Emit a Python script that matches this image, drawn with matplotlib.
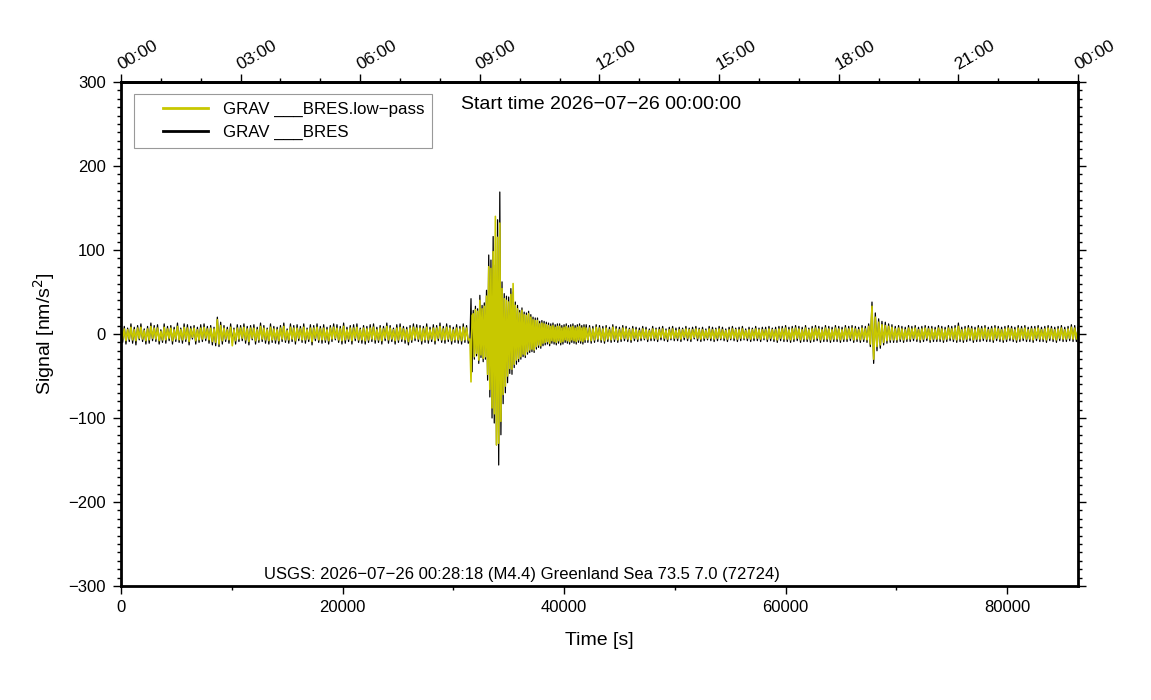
import numpy as np
import matplotlib
matplotlib.use("Agg")
import matplotlib.pyplot as plt
from matplotlib.ticker import MultipleLocator, FixedLocator
from matplotlib.legend_handler import HandlerLine2D

plt.rcParams['font.family'] = ['Liberation Sans', 'DejaVu Sans']

# sample times [s]: 150 s before/after the event, 100 s during it
t_a = np.arange(0, 31500, 150)
t_b = np.arange(31500, 42000, 100)
t_c = np.arange(42000, 86401, 150)

# raw gravimeter residual (nm/s^2), peaks
bres_a = [
    11, -10, 9, -12, 7, -9, 12, -11, 8, -13, 10, -7, 12, -9, 6, -12, 9, -11, 13, -8, 10, -9, 11, -12, 5, -10, 12, -11, 9, -8,
    10, -12, 8, -9, 13, -10, 7, -11, 12, -9, 11, -13, 9, -6, 10, -12, 8, -10, 11, -9, 12, -8, 9, -11, 10, -13, 8, -14, 20, -15,
    14, -12, 10, -9, 8, -11, 12, -10, 7, -12, 11, -9, 10, -8, 12, -11, 9, -13, 10, -7, 11, -12, 8, -10, 13, -9, 10, -11, 7, -12,
    12, -10, 9, -11, 8, -12, 10, -9, 13, -10, 6, -11, 12, -9, 10, -12, 11, -8, 9, -10, 12, -11, 7, -9, 11, -13, 10, -8, 12, -10,
    9, -11, 11, -10, 8, -12, 10, -9, 12, -7, 11, -10, 9, -12, 13, -11, 8, -9, 10, -12, 11, -8, 12, -10, 7, -11, 10, -12, 9, -10,
    11, -9, 12, -11, 8, -10, 10, -12, 9, -8, 13, -11, 10, -9, 7, -12, 11, -10, 12, -9, 9, -11, 8, -13, 10, -10, 12, -8, 11, -9,
    10, -12, 9, -10, 12, -11, 8, -9, 11, -12, 10, -8, 13, -10, 9, -11, 12, -9, 10, -12, 8, -10, 11, -11, 9, -12, 12, -10, 10, -11,
]
bres_b = [
    -9, 42, -45, 28, -30, 33, -26, 30, -35, 46, -28, 34, -33, 37, -30, 52, -55, 94, -75, 88,
    -100, 116, -106, 82, -132, 136, -156, 169, -120, 62, -83, 48, -70, 45, -58, 44, -47, 54, -48, 50,
    -40, 38, -36, 34, -33, 28, -30, 31, -27, 26, -28, 25, -24, 27, -22, 23, -21, 20, -22, 19,
    -18, 19, -16, 15, -17, 16, -14, 15, -13, 14, -12, 13, -14, 12, -11, 13, -12, 11, -13, 12,
    -11, 12, -13, 10, -12, 11, -10, 12, -11, 10, -12, 11, -10, 12, -11, 10, -12, 11, -10, 12,
    -11, 10, -12, 11, -10,
]
bres_c = [
    11, -10, 10, -11, 9, -10, 11, -9, 10, -10, 9, -11, 10, -9, 8, -10, 11, -9, 9, -10, 8, -9, 10, -8, 9, -9, 7, -10, 9, -8,
    8, -9, 7, -8, 9, -7, 8, -9, 6, -8, 9, -8, 7, -9, 8, -7, 9, -8, 6, -9, 8, -7, 9, -8, 7, -8, 8, -9, 7, -7,
    9, -8, 7, -9, 8, -6, 9, -8, 7, -9, 8, -8, 6, -7, 9, -8, 8, -9, 7, -8, 9, -7, 8, -8, 6, -9, 8, -7, 9, -8,
    7, -9, 8, -8, 9, -7, 6, -8, 8, -9, 7, -8, 9, -8, 7, -9, 8, -7, 8, -9, 9, -8, 7, -9, 8, -10, 9, -8, 9, -9,
    10, -9, 8, -10, 9, -9, 10, -8, 9, -10, 8, -9, 10, -9, 7, -10, 9, -9, 10, -8, 9, -10, 8, -9, 10, -9, 9, -10, 8, -9,
    10, -9, 9, -10, 8, -9, 10, -9, 9, -8, 10, -10, 9, -9, 8, -10, 10, -9, 9, -10, 12, -15, 38, -35, 25, -20, 18, -17, 15, -13,
    14, -11, 12, -10, 11, -10, 9, -10, 10, -9, 9, -10, 8, -9, 10, -9, 9, -8, 10, -9, 8, -10, 9, -9, 10, -8, 9, -10, 9, -9,
    8, -9, 10, -9, 9, -10, 8, -9, 10, -8, 9, -9, 10, -10, 13, -9, 8, -10, 9, -9, 10, -8, 9, -10, 8, -9, 10, -9, 9, -8,
    10, -9, 8, -9, 9, -10, 10, -8, 9, -9, 8, -10, 9, -9, 10, -8, 9, -9, 8, -10, 10, -9, 9, -8, 10, -9, 8, -9, 9, -10,
    9, -8, 10, -9, 8, -9, 9, -10, 10, -8, 9, -9, 8, -10, 9, -8, 10, -9, 8, -9, 9, -8, 11, -9, 10, -9, 8,
]

# low-pass filtered version
lowp_a = [
    7, -6, 6, -8, 5, -6, 8, -7, 5, -8, 7, -5, 8, -6, 4, -8, 6, -7, 9, -5, 7, -6, 7, -8, 3, -7, 8, -7, 6, -5,
    7, -8, 5, -6, 9, -7, 5, -7, 8, -6, 7, -9, 6, -4, 7, -8, 5, -7, 7, -6, 8, -5, 6, -7, 7, -9, 6, -10, 17, -12,
    10, -8, 7, -6, 5, -7, 8, -14, 5, -8, 7, -6, 7, -5, 8, -7, 6, -9, 7, -5, 7, -8, 5, -7, 9, -6, 7, -7, 5, -8,
    8, -7, 6, -7, 5, -8, 7, -6, 9, -7, 4, -7, 8, -6, 7, -8, 7, -5, 6, -7, 8, -7, 5, -6, 7, -9, 7, -5, 8, -7,
    6, -7, 7, -7, 5, -8, 7, -6, 8, -5, 7, -7, 6, -8, 9, -7, 5, -6, 7, -8, 7, -5, 8, -7, 5, -7, 7, -8, 6, -7,
    7, -6, 8, -7, 5, -7, 7, -8, 6, -5, 9, -7, 7, -6, 5, -8, 7, -7, 8, -6, 6, -7, 5, -9, 7, -7, 8, -5, 7, -6,
    7, -8, 6, -7, 8, -7, 5, -6, 7, -8, 7, -5, 9, -7, 6, -7, 8, -6, 7, -8, 5, -7, 7, -7, 6, -8, 8, -7, 7, -7,
]
lowp_b = [
    -6, -57, 22, 24, -27, 29, -23, 27, -31, 40, -25, 30, -29, 33, -27, 45, -48, 80, -66, 78,
    -88, 98, -95, 140, -132, 115, -130, 132, -104, 54, -72, 42, -62, 40, -50, 38, -41, 47, -42, 60,
    -36, 34, -31, 30, -29, 25, -27, 28, -24, 23, -25, 22, -21, 24, -19, 20, -18, 17, -19, 16,
    -15, 16, -13, 12, -14, 13, -11, 12, -10, 11, -9, 10, -11, 9, -8, 10, -9, 8, -10, 9,
    -8, 9, -10, 7, -9, 8, -7, 9, -8, 7, -9, 8, -7, 9, -8, 7, -9, 8, -7, 9,
    -8, 7, -9, 8, -7,
]
lowp_c = [
    7, -7, 7, -8, 6, -7, 8, -6, 7, -7, 6, -8, 7, -6, 5, -7, 8, -6, 6, -7, 5, -6, 7, -5, 6, -6, 5, -7, 6, -5,
    5, -6, 4, -5, 6, -5, 5, -6, 4, -5, 6, -5, 5, -6, 5, -4, 6, -5, 4, -6, 5, -5, 6, -5, 4, -5, 5, -6, 5, -4,
    6, -5, 5, -6, 5, -4, 6, -5, 5, -6, 5, -5, 4, -5, 6, -5, 5, -6, 5, -5, 6, -5, 5, -5, 4, -6, 5, -5, 6, -5,
    5, -6, 5, -5, 6, -5, 4, -5, 5, -6, 5, -5, 6, -5, 5, -6, 5, -5, 5, -6, 6, -5, 5, -6, 5, -7, 6, -5, 6, -6,
    7, -6, 5, -7, 6, -6, 7, -5, 6, -7, 5, -6, 7, -6, 5, -7, 6, -6, 7, -5, 6, -7, 5, -6, 7, -6, 6, -7, 5, -6,
    7, -6, 6, -7, 5, -6, 7, -6, 6, -5, 7, -7, 6, -6, 5, -7, 7, -6, 6, -7, 9, -12, 33, -30, 20, -15, 14, -13, 11, -10,
    10, -8, 9, -7, 8, -7, 6, -7, 7, -6, 6, -7, 5, -6, 7, -6, 6, -5, 7, -6, 5, -7, 6, -6, 7, -5, 6, -7, 6, -6,
    5, -6, 7, -6, 6, -7, 5, -6, 7, -5, 6, -6, 7, -7, 9, -6, 5, -7, 6, -6, 7, -5, 6, -7, 5, -6, 7, -6, 6, -5,
    7, -6, 5, -6, 6, -7, 7, -5, 6, -6, 5, -7, 6, -6, 7, -5, 6, -6, 5, -7, 7, -6, 6, -5, 7, -6, 5, -6, 6, -7,
    6, -5, 7, -6, 5, -6, 6, -7, 7, -5, 6, -6, 5, -7, 6, -5, 7, -6, 5, -6, 6, -5, 8, -6, 7, -6, 5,
]

top_ticks = [0, 10800, 21600, 32400, 43200, 54000, 64800, 75600, 86400]
top_labels = ["00:00", "03:00", "06:00", "09:00", "12:00", "15:00", "18:00", "21:00", "00:00"]

start_text = "Start time 2026\u221207\u221226 00:00:00"
event_text = "USGS: 2026\u221207\u221226 00:28:18 (M4.4) Greenland Sea 73.5 7.0 (72724)"

t = np.concatenate([t_a, t_b, t_c])
bres = np.array(bres_a + bres_b + bres_c, dtype=float)
lowp = np.array(lowp_a + lowp_b + lowp_c, dtype=float)

yellow = "#c8c800"

fig = plt.figure(figsize=(11.51, 7.0), dpi=100)
ax = fig.add_axes([0.1051, 0.1629, 0.8315, 0.72])

ax.plot(t, bres, color="black", lw=0.9, label="GRAV ___BRES")
ax.plot(t, lowp, color=yellow, lw=1.2, label="GRAV ___BRES.low\u2212pass")

ax.set_xlim(0, 86400)
ax.set_ylim(-300, 300)

ax.xaxis.set_major_locator(MultipleLocator(20000))
ax.xaxis.set_minor_locator(MultipleLocator(10000))
ax.yaxis.set_major_locator(MultipleLocator(100))
ax.yaxis.set_minor_locator(MultipleLocator(10))
ax.tick_params(which="both", direction="out", width=1.0, labelsize=12,
               right=True, labelright=False)
ax.tick_params(which="major", length=5.5)
ax.tick_params(which="minor", length=2.6)
ax.tick_params(axis="x", pad=4.5)
ax.tick_params(axis="y", pad=5.5)
for sp in ax.spines.values():
    sp.set_linewidth(2.0)

top = ax.secondary_xaxis("top")
top.xaxis.set_major_locator(FixedLocator(top_ticks))
top.xaxis.set_minor_locator(MultipleLocator(3600))
top.set_xticklabels(top_labels)
top.tick_params(which="both", direction="out", width=1.0, labelsize=12.5, pad=3)
top.tick_params(which="major", length=5.5)
top.tick_params(which="minor", length=2.6)
top.spines["top"].set_linewidth(2.0)
for lab in top.get_xticklabels():
    lab.set_rotation(30)
    lab.set_ha("left")
    lab.set_va("baseline")
    lab.set_rotation_mode("anchor")

ax.set_xlabel("Time [s]", fontsize=14, labelpad=12)
ax.set_ylabel("Signal [nm/s$^2$]", fontsize=14, labelpad=8)

handles, labels = ax.get_legend_handles_labels()
leg = ax.legend(handles[::-1], labels[::-1], loc="upper left",
                bbox_to_anchor=(0.0136, 0.976), fontsize=12.2, frameon=True,
                fancybox=False, edgecolor="#999999", framealpha=1,
                handlelength=3.9, handletextpad=0.88, borderpad=0.45,
                labelspacing=0.5, borderaxespad=0,
                handler_map={h: HandlerLine2D(xpad=1.28) for h in handles})
leg.get_frame().set_linewidth(0.8)
for h in leg.get_lines():
    h.set_linewidth(2.0)

ax.text(0.355, 0.956, start_text, transform=ax.transAxes, fontsize=14,
        ha="left", va="center")
ax.text(0.1497, 0.022, event_text, transform=ax.transAxes, fontsize=12,
        ha="left", va="center")

fig.savefig("out.png", dpi=100)
